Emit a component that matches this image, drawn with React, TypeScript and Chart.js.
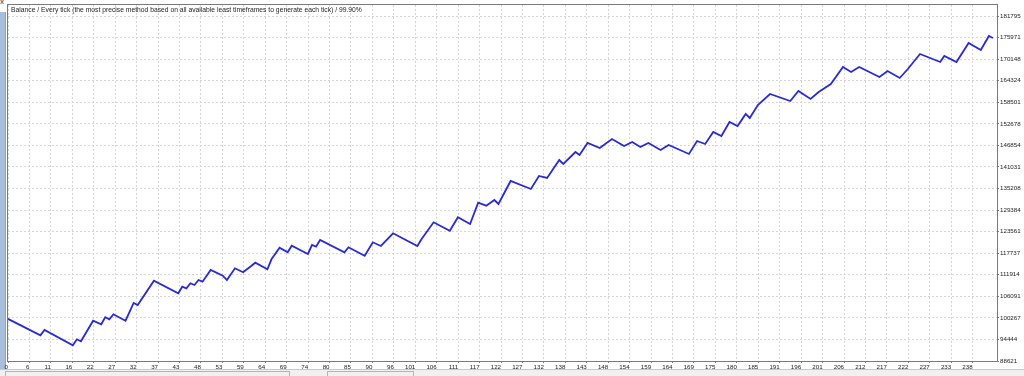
import React, { useEffect, useRef } from 'react';
import { Chart, registerables } from 'chart.js';

Chart.register(...registerables);

const TITLE =
  'Balance / Every tick (the most precise method based on all available least timeframes to generate each tick) / 99.90%';

const xTickLabels = [
  '0', '6', '11', '16', '22', '27', '32', '37', '43', '48', '53', '59', '64', '69', '74', '80',
  '85', '90', '96', '101', '106', '111', '117', '122', '127', '132', '138', '143', '148', '154',
  '159', '164', '169', '175', '180', '185', '191', '196', '201', '206', '212', '217', '222', '227',
  '233', '238',
];

const yTickLabels = [
  '88621', '94444', '100267', '106091', '111914', '117737', '123561', '129384', '135208',
  '141031', '146854', '152678', '158501', '164324', '170148', '175971', '181795',
];

// trade number of each turning point of the balance curve
const tradeIndex = [
  0, 8, 9, 16, 17, 18, 21, 23, 24, 25, 26, 29, 31, 32, 36, 42, 43, 44, 45, 46, 47, 48, 50, 53,
  54, 56, 58, 60, 61, 64, 65, 67, 69, 70, 74, 75, 76, 77, 83, 84, 88, 90, 92, 95, 101, 102, 105,
  109, 111, 114, 116, 118, 120, 121, 124, 129, 131, 133, 136, 137, 140, 141, 143, 146, 149, 152,
  154, 156, 158, 161, 163, 168, 170, 172, 174, 176, 178, 180, 182, 183, 185, 188, 193, 195, 198,
  200, 203, 206, 208, 210, 215, 217, 220, 222, 225, 230, 231, 234, 237, 240, 242, 243,
];

// balance at those trades
const balance = [
  100000, 95563, 96994, 92862, 94482, 93942, 99506, 98534, 100425, 99885, 101235, 99506, 104287,
  103747, 110310, 106908, 108690, 108257, 109608, 109149, 110499, 110040, 113200, 111661, 110499,
  113660, 112579, 114281, 115172, 113389, 116090, 119224, 117981, 119764, 117522, 119953, 119494,
  121303, 117981, 119332, 117062, 120682, 119683, 123113, 119683, 121493, 126085, 123815, 127435,
  125625, 131378, 130567, 132107, 131027, 137239, 135078, 138590, 138049, 142911, 141831, 145072,
  144262, 147503, 146152, 148583, 146693, 147773, 146422, 147500, 145612, 146963, 144532, 148043,
  147233, 150474, 149394, 153175, 152095, 155336, 154255, 157767, 160738, 158847, 161548, 159387,
  161278, 163439, 168030, 166680, 168030, 165329, 166950, 165059, 167490, 171542, 169381, 171002,
  169381, 174513, 172622, 176404, 175863,
];

const X_MAX = 244;
const X_LABEL_STEP = 238 / 45;
const Y_MIN = 88621;
const Y_MAX = 184770;

const FONT = '"Liberation Sans", Arial, sans-serif';

const framePlugin = {
  id: 'frame',
  afterDraw(chart: any) {
    const { ctx, chartArea } = chart;
    const { left, top, right, bottom } = chartArea;
    ctx.save();
    ctx.strokeStyle = '#7a7a7a';
    ctx.lineWidth = 1;
    ctx.strokeRect(left - 0.5, top - 0.5, right - left + 1, bottom - top + 1);
    ctx.fillStyle = '#1e1e1e';
    ctx.font = '6.75px ' + FONT;
    ctx.textBaseline = 'middle';
    ctx.textAlign = 'left';
    ctx.fillText(TITLE, left + 3, top + 5.5);
    ctx.restore();
  },
};

export default function App() {
  const ref = useRef<HTMLCanvasElement | null>(null);

  useEffect(() => {
    const canvas = ref.current;
    if (!canvas) return;
    const chart = new Chart(canvas, {
      type: 'line',
      data: {
        datasets: [
          {
            data: tradeIndex.map((t, i) => ({ x: t, y: balance[i] })),
            borderColor: '#2a2ad0',
            borderWidth: 1.8,
            pointRadius: 0,
            tension: 0,
            fill: false,
          },
        ],
      },
      options: {
        animation: false,
        responsive: false,
        devicePixelRatio: 1,
        layout: { padding: { left: 8, top: 5, right: 0, bottom: 0 } },
        plugins: {
          legend: { display: false },
          tooltip: { enabled: false },
          title: { display: false },
        },
        scales: {
          x: {
            type: 'linear',
            min: 0,
            max: X_MAX,
            afterBuildTicks: (scale: any) => {
              scale.ticks = xTickLabels.map((_, k) => ({ value: k * X_LABEL_STEP }));
            },
            afterFit: (scale: any) => {
              scale.height = 15;
            },
            ticks: {
              autoSkip: false,
              maxRotation: 0,
              minRotation: 0,
              align: 'end',
              padding: 1,
              color: '#222',
              font: { family: FONT, size: 6.2 },
              callback: (_v: any, i: number) => xTickLabels[i],
            },
            grid: {
              color: '#d6d6d6',
              lineWidth: 1,
              drawTicks: true,
              tickLength: 2,
              tickColor: '#7a7a7a',
              tickBorderDash: [],
            },
            border: { display: false, dash: [2, 2] },
          },
          y: {
            type: 'linear',
            position: 'right',
            min: Y_MIN,
            max: Y_MAX,
            afterBuildTicks: (scale: any) => {
              scale.ticks = yTickLabels.map((l) => ({ value: Number(l) }));
            },
            afterFit: (scale: any) => {
              scale.width = 27;
            },
            ticks: {
              autoSkip: false,
              padding: 1,
              crossAlign: 'near',
              color: '#222',
              font: { family: FONT, size: 6.2 },
              callback: (_v: any, i: number) => yTickLabels[i],
            },
            grid: {
              color: '#d6d6d6',
              lineWidth: 1,
              drawTicks: true,
              tickLength: 2,
              tickColor: '#7a7a7a',
              tickBorderDash: [],
            },
            border: { display: false, dash: [2, 2] },
          },
        },
      },
      plugins: [framePlugin],
    } as any);
    return () => chart.destroy();
  }, []);

  return (
    <div
      style={{
        position: 'fixed',
        left: 0,
        top: 0,
        width: 1024,
        height: 376,
        background: '#ffffff',
        overflow: 'hidden',
      }}
    >
      <div
        style={{
          position: 'absolute',
          left: 0,
          top: 12,
          width: 5,
          height: 364,
          background: '#a8bedb',
          borderRight: '1px solid #8ea6c6',
        }}
      />
      <div
        style={{
          position: 'absolute',
          left: 0,
          top: -3,
          fontFamily: FONT,
          fontSize: 8,
          color: '#333',
        }}
      >
        x
      </div>
      <div
        style={{
          position: 'absolute',
          left: 0,
          top: 369,
          width: 1024,
          height: 7,
          background: '#f0f0f0',
          borderTop: '1px solid #c8c8c8',
        }}
      />
      <div style={{ position: 'absolute', left: 5, top: 371, width: 283, height: 6, border: '1px solid #b4b4b4', borderBottom: 'none' }} />
      <div style={{ position: 'absolute', left: 327, top: 371, width: 85, height: 6, border: '1px solid #b4b4b4', borderBottom: 'none' }} />
      <canvas
        ref={ref}
        width={1024}
        height={376}
        style={{ position: 'absolute', left: 0, top: 0, width: 1024, height: 376 }}
      />
    </div>
  );
}
